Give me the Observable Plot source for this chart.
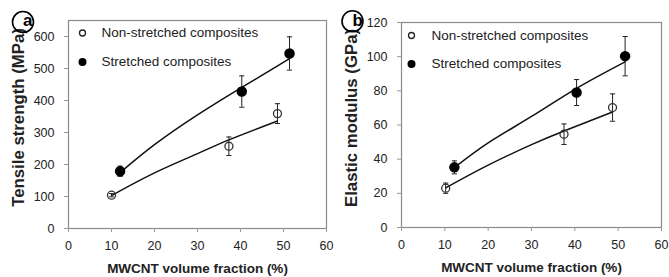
<!DOCTYPE html>
<html>
<head>
<meta charset="utf-8">
<script src="https://cdn.jsdelivr.net/npm/d3@7"></script>
<script src="https://cdn.jsdelivr.net/npm/@observablehq/plot@0.6"></script>
<style>
  body { margin: 0; background: #fff; }
  #wrap { display: flex; flex-direction: row; width: 669px; height: 277px; }
</style>
</head>
<body>
<div id="wrap"></div>
<script>
// ---- shared ----
const xTicks = [0, 10, 20, 30, 40, 50, 60];
const seriesNames = ["Non-stretched composites", "Stretched composites"];
const xTitle = "MWCNT volume fraction (%)";

// ---- panel (a): tensile strength ----
const tsTicks = [0, 100, 200, 300, 400, 500, 600];
const tsTitle = "Tensile strength (MPa)";
const tsNonX = [10.0, 37.3, 48.6];
const tsNonY = [104, 257, 359];
const tsNonErr = [5, 29, 31];
const tsStrX = [12.0, 40.3, 51.4];
const tsStrY = [179, 428, 547];
const tsStrErr = [16, 49, 52];
const tsNonFitX = [10.0, 20, 30, 37.3, 48.6];
const tsNonFitY = [103, 174, 234, 277, 336];
const tsStrFitX = [12.2, 20, 30, 40.3, 51.4];
const tsStrFitY = [177, 262, 355, 441, 531];

// ---- panel (b): elastic modulus ----
const emTicks = [0, 20, 40, 60, 80, 100, 120];
const emTitle = "Elastic modulus (GPa)";
const emNonX = [10.2, 37.5, 48.7];
const emNonY = [23, 54.6, 70.2];
const emNonErr = [3, 6, 8];
const emStrX = [12.2, 40.4, 51.6];
const emStrY = [35.2, 79, 100.3];
const emStrErr = [3.8, 7.6, 11.5];
const emNonFitX = [10.2, 20, 30, 37.5, 48.7];
const emNonFitY = [23.2, 36.5, 48.5, 56.5, 67.6];
const emStrFitX = [12.2, 20, 30, 40.4, 51.6];
const emStrFitY = [35, 49.5, 65, 81.5, 97];

const zip3 = (xs, ys, es) => xs.map((x, i) => ({x, y: ys[i], e: es ? es[i] : 0}));
const capSymbol = {
  draw(ctx, size) {
    const r = Math.sqrt(size / Math.PI);
    ctx.moveTo(-r, 0); ctx.lineTo(r, 0);
  }
};

function panel(cfg) {
  const non = zip3(cfg.nonX, cfg.nonY, cfg.nonErr);
  const str = zip3(cfg.strX, cfg.strY, cfg.strErr);
  const nonFit = zip3(cfg.nonFitX, cfg.nonFitY);
  const strFit = zip3(cfg.strFitX, cfg.strFitY);
  const errMarks = (data) => [
    Plot.ruleX(data, {x: "x", y1: d => d.y - d.e, y2: d => d.y + d.e, stroke: "#222", strokeWidth: 1}),
    Plot.dot(data, {x: "x", y: d => d.y - d.e, symbol: capSymbol, r: 2.6, stroke: "#222", strokeWidth: 1, fill: "none"}),
    Plot.dot(data, {x: "x", y: d => d.y + d.e, symbol: capSymbol, r: 2.6, stroke: "#222", strokeWidth: 1, fill: "none"})
  ];
  const svg = Plot.plot({
    width: cfg.width, height: 277,
    marginLeft: cfg.ml, marginRight: cfg.mr, marginTop: cfg.mt, marginBottom: cfg.mb,
    style: {fontFamily: "'Liberation Sans', Arial, sans-serif", fontSize: "12.5px", color: "#222", background: "#fff", overflow: "visible"},
    x: {domain: [0, 60]},
    y: {domain: cfg.yDomain},
    marks: [
      Plot.frame({stroke: "#8a8a8a", strokeWidth: 1.2}),
      Plot.axisX({ticks: xTicks, tickSize: 4, tickPadding: 9, stroke: "#999", fill: "#222", fontSize: 12.5,
        label: xTitle, labelAnchor: "center", labelArrow: "none", labelOffset: 44}),
      Plot.axisY({ticks: cfg.yTicks, tickSize: 4, tickPadding: 10, stroke: "#999", fill: "#222", fontSize: 12.5,
        label: null}),
      Plot.text([cfg.yTitle], {text: d => d, frameAnchor: "left", rotate: -90, dx: cfg.yTitleDx, dy: -7,
        lineAnchor: "middle", textAnchor: "middle", fontSize: 16.8, fontWeight: "bold", fill: "#222"}),
      Plot.line(nonFit, {x: "x", y: "y", curve: "natural", stroke: "#111", strokeWidth: 1.5}),
      Plot.line(strFit, {x: "x", y: "y", curve: "natural", stroke: "#111", strokeWidth: 1.5}),
      ...errMarks(non),
      ...errMarks(str),
      Plot.dot(non, {x: "x", y: "y", r: 4, fill: "none", stroke: "#333", strokeWidth: 1.3}),
      Plot.dot(str, {x: "x", y: "y", r: 4.5, fill: "#000", stroke: "#000"}),
      // legend
      Plot.dot([seriesNames[0]], {frameAnchor: "top-left", dx: cfg.legDx, dy: cfg.legDy1, r: 3, fill: "none", stroke: "#222", strokeWidth: 1.3}),
      Plot.dot([seriesNames[1]], {frameAnchor: "top-left", dx: cfg.legDx, dy: cfg.legDy2, r: 4, fill: "#000"}),
      Plot.text([seriesNames[0]], {text: d => d, frameAnchor: "top-left", dx: cfg.legTx, dy: cfg.legDy1, textAnchor: "start", lineAnchor: "middle", fontSize: 13.5, fill: "#222"}),
      Plot.text([seriesNames[1]], {text: d => d, frameAnchor: "top-left", dx: cfg.legTx, dy: cfg.legDy2, textAnchor: "start", lineAnchor: "middle", fontSize: 13.5, fill: "#222"}),
      // panel letter
      Plot.dot([cfg.letter], {frameAnchor: "top-left", dx: cfg.letDx, dy: cfg.letDy, r: 10.5, fill: "none", stroke: "#000", strokeWidth: 1.6}),
      Plot.text([cfg.letter], {text: d => d, frameAnchor: "top-left", dx: cfg.letDx, dy: cfg.letDy - 1, lineAnchor: "middle", fontSize: 17, fontWeight: "bold", fill: "#000"})
    ]
  });
  const s = d3.select(svg);
  s.selectAll('g[aria-label="x-axis label"], g[aria-label="x-axis label"] text').style("font-size", "13.5px").style("font-weight", "bold");
  return svg;
}

const wrap = document.getElementById("wrap");
wrap.append(panel({
  width: 335, ml: 68, mr: 9, mt: 20, mb: 49,
  yDomain: [0, 650], yTicks: tsTicks, yTitle: tsTitle, yTitleDx: -50,
  nonX: tsNonX, nonY: tsNonY, nonErr: tsNonErr, strX: tsStrX, strY: tsStrY, strErr: tsStrErr,
  nonFitX: tsNonFitX, nonFitY: tsNonFitY, strFitX: tsStrFitX, strFitY: tsStrFitY,
  legDx: 14, legDy1: 12.5, legDy2: 41.5, legTx: 33,
  letter: "a", letDx: -45.5, letDy: 1.5
}));
wrap.append(panel({
  width: 334, ml: 66, mr: 8, mt: 22, mb: 50,
  yDomain: [0, 120], yTicks: emTicks, yTitle: emTitle, yTitleDx: -50,
  nonX: emNonX, nonY: emNonY, nonErr: emNonErr, strX: emStrX, strY: emStrY, strErr: emStrErr,
  nonFitX: emNonFitX, nonFitY: emNonFitY, strFitX: emStrFitX, strFitY: emStrFitY,
  legDx: 10, legDy1: 13, legDy2: 41.5, legTx: 30,
  letter: "b", letDx: -49, letDy: -1.3
}));
</script>
</body>
</html>
